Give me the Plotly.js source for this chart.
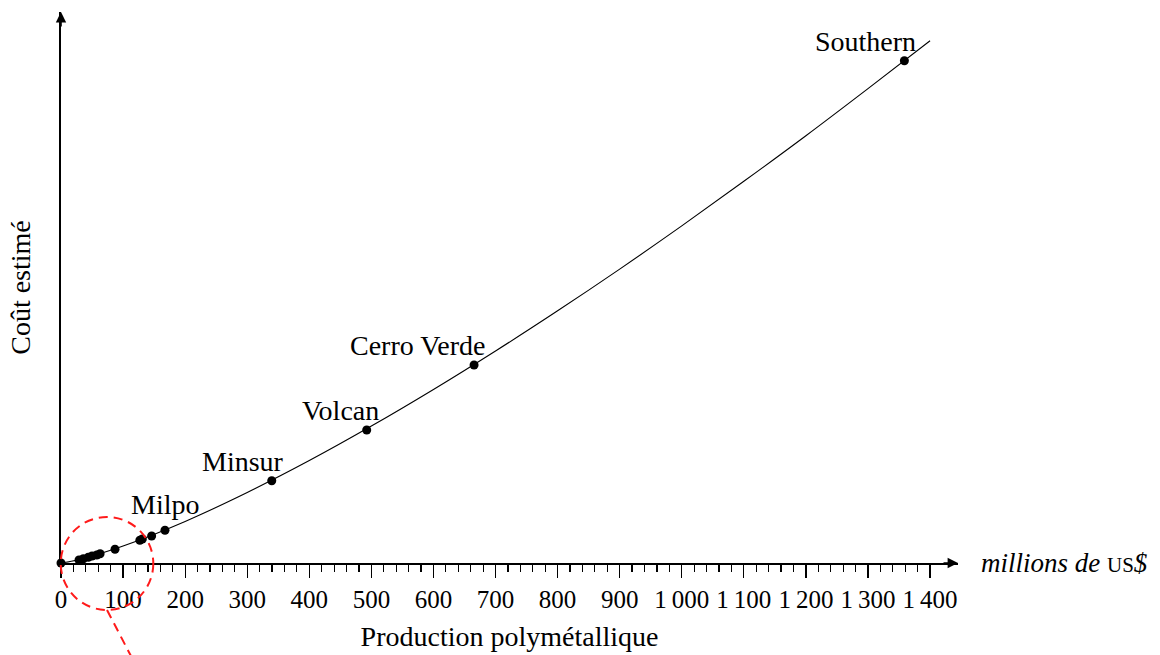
<!DOCTYPE html>
<html>
<head>
<meta charset="utf-8">
<script src="https://cdn.plot.ly/plotly-3.0.1.min.js"></script>
<style>html,body{margin:0;padding:0;background:#fff;}#chart{width:1160px;height:655px;}</style>
</head>
<body>
<div id="chart"></div>
<script>
// Firms: production (millions US$) vs estimated cost (arbitrary units, no y scale shown)
const firmX = [0, 29, 36, 44, 50, 57.6, 63, 87, 127, 131, 146, 167.5, 339.5, 492.5, 665.4, 1358.6];
const firmY = [0, 3, 4.3, 5.7, 7, 8, 9.3, 13.7, 22.7, 24, 27, 32.7, 82.3, 133, 198, 502.3];
const firmNames = ["", "", "", "", "", "", "", "", "", "", "", "Milpo", "Minsur", "Volcan", "Cerro Verde", "Southern"];

// Fitted cost curve
const curveX = [0, 25, 50, 100, 200, 300, 400, 500, 600, 700, 800, 900, 1000, 1100, 1200, 1300, 1400];
const curveY = [0, 2.8, 6.9, 16.9, 41.6, 70.5, 102.4, 136.9, 173.5, 212.0, 252.2, 293.9, 337.1, 381.7, 427.3, 474.4, 522.3];

// X axis ticks
const tickVals = [0, 100, 200, 300, 400, 500, 600, 700, 800, 900, 1000, 1100, 1200, 1300, 1400];
const tickText = ["0", "100", "200", "300", "400", "500", "600", "700", "800", "900",
                  "1\u2009000", "1\u2009100", "1\u2009200", "1\u2009300", "1\u2009400"];

const FONT = "Liberation Serif, Times New Roman, serif";
const minorVals = [];
for (let v = 0; v <= tickVals[tickVals.length - 1]; v += 20) if (v % 100 !== 0) minorVals.push(v);

const traces = [
  { x: curveX, y: curveY, type: 'scatter', mode: 'lines',
    line: { color: '#000', width: 1.1, shape: 'spline', smoothing: 1.0 }, hoverinfo: 'skip', cliponaxis: false },
  { x: firmX, y: firmY, type: 'scatter', mode: 'markers',
    marker: { color: '#000', size: 9 }, cliponaxis: false }
];

const annotations = [];
firmNames.forEach((n, i) => {
  if (!n) return;
  const centered = (n === 'Milpo');
  annotations.push({
    x: firmX[i], y: firmY[i], xref: 'x', yref: 'y', text: n, showarrow: false,
    xanchor: centered ? 'center' : 'right', yanchor: 'bottom',
    xshift: centered ? 0 : 14, yshift: centered ? 8 : 2,
    font: { family: FONT, size: 28, color: '#000' }
  });
});
// axis arrowheads
annotations.push({ x: 1, y: 0, xref: 'paper', yref: 'paper', ax: -16, ay: 0, text: '', showarrow: true,
  arrowhead: 2, arrowsize: 1.3, arrowwidth: 1.6, arrowcolor: '#000', standoff: 0 });
annotations.push({ x: 0, y: 1, xref: 'paper', yref: 'paper', ax: 0, ay: 16, text: '', showarrow: true,
  arrowhead: 2, arrowsize: 1.3, arrowwidth: 1.6, arrowcolor: '#000', standoff: 0 });
// unit label
annotations.push({ x: 1.0234, y: 0, xref: 'paper', yref: 'paper', xanchor: 'left', yanchor: 'middle',
  showarrow: false, text: '<i>millions de</i> <span style="font-size:21px">US</span><i>$</i>',
  font: { family: FONT, size: 27, color: '#000' } });

const layout = {
  width: 1160, height: 655,
  margin: { l: 61, r: 202, t: 12, b: 92 },
  paper_bgcolor: '#fff', plot_bgcolor: '#fff',
  showlegend: false,
  font: { family: FONT, size: 25, color: '#000' },
  xaxis: {
    range: [0, 1445], showgrid: false, zeroline: false, showline: true, linecolor: '#000', linewidth: 1.6,
    tickmode: 'array', tickvals: tickVals, ticktext: tickText,
    ticks: 'outside', ticklen: 13, tickwidth: 1.2, tickcolor: '#000',
    minor: { tickmode: 'array', tickvals: minorVals, ticks: 'outside', ticklen: 7, tickwidth: 1.2, tickcolor: '#000', showgrid: false },
    tickfont: { family: FONT, size: 25, color: '#000' },
    title: { text: 'Production polymétallique', font: { family: FONT, size: 28, color: '#000' }, standoff: 15 },
    fixedrange: true
  },
  yaxis: {
    range: [0, 551], showgrid: false, zeroline: false, showline: true, linecolor: '#000', linewidth: 1.6,
    ticks: '', showticklabels: false,
    title: { text: 'Coût estimé', font: { family: FONT, size: 28, color: '#000' }, standoff: 20 },
    fixedrange: true
  },
  shapes: [
    { type: 'circle', xref: 'paper', yref: 'paper', x0: -0.0003, x1: 0.1029, y0: -0.0853, y1: 0.0835,
      line: { color: '#ff1a1a', width: 2, dash: '9px,6px' } },
    { type: 'line', xref: 'paper', yref: 'paper', x0: 0.0513, y0: -0.0853, x1: 0.0803, y1: -0.176,
      line: { color: '#ff1a1a', width: 2, dash: '9px,6px' } }
  ],
  annotations: annotations
};

Plotly.newPlot('chart', traces, layout, { displayModeBar: false, staticPlot: true });
</script>
</body>
</html>
